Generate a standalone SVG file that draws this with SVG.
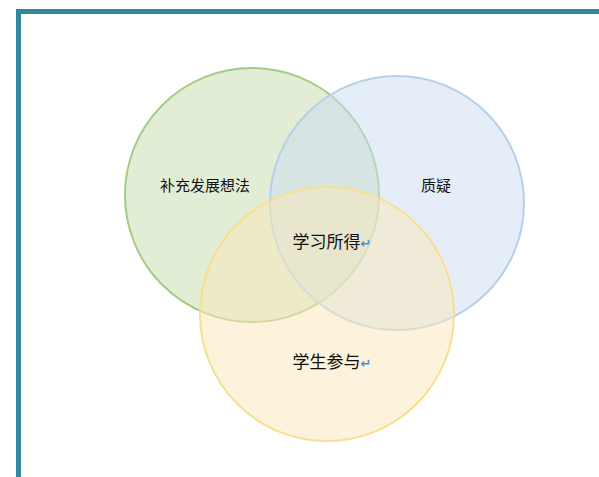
<svg xmlns="http://www.w3.org/2000/svg" width="599" height="477" viewBox="0 0 599 477">
<style>
.c{stroke-width:2}
.t{font-family:"Noto Sans CJK SC","Noto Sans",sans-serif;fill:#111;text-anchor:middle}
.r{fill:#4a90e2;font-family:"DejaVu Sans",sans-serif;font-weight:bold}
</style>
<rect x="0" y="0" width="599" height="477" fill="#fff"/>
<rect x="18.5" y="11.5" width="600" height="480" fill="#fff" stroke="#32869d" stroke-width="5"/>
<g id="green">
<circle class="c" cx="252" cy="195" r="127" fill="#c3dbab" fill-opacity="0.5" stroke="#a5cb83"/>
<text class="t" x="205" y="191" font-size="15">补充发展想法</text>
</g>
<g id="blue">
<circle class="c" cx="397" cy="203" r="127" fill="#cbddf1" fill-opacity="0.5" stroke="#b5d0ea"/>
<text class="t" x="436" y="191" font-size="15">质疑</text>
</g>
<g id="yellow">
<circle class="c" cx="327" cy="314" r="127" fill="#fbe7b9" fill-opacity="0.5" stroke="#f7df8e"/>
</g>
<g id="center">
<text class="t" x="332" y="248" font-size="17">学习所得<tspan class="r" font-size="13">↵</tspan></text>
</g>
<g id="bottom">
<text class="t" x="332" y="368" font-size="17">学生参与<tspan class="r" font-size="13">↵</tspan></text>
</g>
<g id="connectors"/>
</svg>
